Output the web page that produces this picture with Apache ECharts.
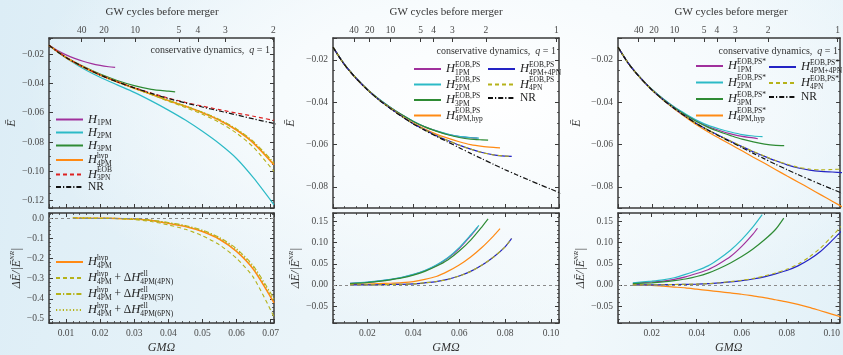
<!DOCTYPE html>
<html>
<head>
<meta charset="utf-8">
<script src="https://cdn.jsdelivr.net/npm/echarts@6/dist/echarts.min.js"></script>
<style>
  html, body { margin: 0; padding: 0; }
  body {
    width: 843px; height: 355px; overflow: hidden;
    background:
      radial-gradient(ellipse 55% 65% at 58% 28%, #ffffff 0%, #f7fbfd 45%, rgba(247,251,253,0) 100%),
      linear-gradient(100deg, #dcedf6 0%, #eaf4f9 40%, #f1f8fb 70%, #e3f1f8 100%);
  }
  #chart { width: 843px; height: 355px; }
</style>
</head>
<body>
<div id="chart"></div>
<script>
// ---- data (GM Omega, value) ----
const nrOmega = [0.005, 0.0075, 0.01, 0.0125, 0.015, 0.02, 0.025, 0.03, 0.035, 0.04, 0.045, 0.05,
  0.055, 0.06, 0.065, 0.07, 0.075, 0.08, 0.085, 0.09, 0.095, 0.10, 0.105];
const nrEnergy = [-0.0140, -0.0184, -0.0223, -0.0256, -0.0287, -0.0342, -0.0389, -0.0430, -0.0468, -0.0503,
  -0.0533, -0.0561, -0.0588, -0.0615, -0.0642, -0.0668, -0.0694, -0.0719, -0.0743, -0.0766, -0.0789, -0.0811, -0.0833];

// panel 1, top: binding energy
const p1H1PM = [[0.005,-0.0140],[0.0075,-0.0176],[0.01,-0.0205],[0.0125,-0.0229],[0.015,-0.0249],[0.0175,-0.0265],[0.02,-0.0277],[0.0225,-0.0286],[0.0244,-0.0291]];
const p1H2PM = [[0.005,-0.0140],[0.0075,-0.0185],[0.01,-0.0226],[0.015,-0.0298],[0.02,-0.0358],[0.025,-0.0410],[0.03,-0.0461],[0.035,-0.0519],[0.04,-0.0582],[0.045,-0.0650],[0.05,-0.0727],[0.055,-0.0812],[0.06,-0.0912],[0.065,-0.1045],[0.071,-0.1228]];
const p1H3PM = [[0.005,-0.0140],[0.01,-0.0222],[0.015,-0.0284],[0.02,-0.0337],[0.025,-0.0380],[0.03,-0.0415],[0.035,-0.0440],[0.04,-0.0453],[0.042,-0.0457]];
const p1H4PMhyp = [[0.005,-0.0140],[0.01,-0.0223],[0.015,-0.0287],[0.02,-0.0342],[0.025,-0.0389],[0.03,-0.0432],[0.035,-0.0474],[0.04,-0.0516],[0.045,-0.0556],[0.05,-0.0600],[0.055,-0.0651],[0.06,-0.0718],[0.065,-0.0807],[0.071,-0.0955]];
const p1H3PNeob = [[0.005,-0.0140],[0.01,-0.0223],[0.015,-0.0287],[0.02,-0.0342],[0.025,-0.0389],[0.03,-0.0429],[0.035,-0.0466],[0.04,-0.0500],[0.045,-0.0529],[0.05,-0.0555],[0.055,-0.0579],[0.06,-0.0602],[0.065,-0.0624],[0.071,-0.0652]];
const p1Ell4PN = [[0.005,-0.0140],[0.01,-0.0223],[0.015,-0.0287],[0.02,-0.0342],[0.025,-0.0390],[0.03,-0.0433],[0.035,-0.0476],[0.04,-0.0521],[0.045,-0.0564],[0.05,-0.0611],[0.055,-0.0666],[0.06,-0.0739],[0.065,-0.0836],[0.071,-0.1001]];
const p1Ell5PN = [[0.005,-0.0140],[0.01,-0.0223],[0.015,-0.0287],[0.02,-0.0342],[0.025,-0.0389],[0.03,-0.0432],[0.035,-0.0473],[0.04,-0.0514],[0.045,-0.0554],[0.05,-0.0596],[0.055,-0.0646],[0.06,-0.0710],[0.065,-0.0797],[0.071,-0.0941]];
const p1Ell6PN = [[0.005,-0.0140],[0.01,-0.0223],[0.015,-0.0287],[0.02,-0.0342],[0.025,-0.0389],[0.03,-0.0432],[0.035,-0.0474],[0.04,-0.0515],[0.045,-0.0555],[0.05,-0.0597],[0.055,-0.0647],[0.06,-0.0713],[0.065,-0.0801],[0.071,-0.0948]];

// panel 1, bottom: relative difference to NR
const p1dHyp = [[0.012,0],[0.02,-0.001],[0.025,-0.002],[0.03,-0.005],[0.035,-0.012],[0.04,-0.026],[0.045,-0.042],[0.05,-0.067],[0.055,-0.105],[0.06,-0.165],[0.065,-0.255],[0.071,-0.42]];
const p1d4PN = [[0.012,0],[0.02,-0.001],[0.025,-0.003],[0.03,-0.008],[0.035,-0.017],[0.04,-0.034],[0.045,-0.056],[0.05,-0.088],[0.055,-0.133],[0.06,-0.199],[0.065,-0.295],[0.071,-0.49]];
const p1d5PN = [[0.012,0],[0.02,-0.001],[0.025,-0.002],[0.03,-0.004],[0.035,-0.010],[0.04,-0.022],[0.045,-0.037],[0.05,-0.060],[0.055,-0.096],[0.06,-0.152],[0.065,-0.238],[0.071,-0.400]];
const p1d6PN = [[0.012,0],[0.02,-0.001],[0.025,-0.002],[0.03,-0.0045],[0.035,-0.011],[0.04,-0.024],[0.045,-0.039],[0.05,-0.063],[0.055,-0.100],[0.06,-0.157],[0.065,-0.245],[0.071,-0.410]];

// panel 2 (EOB,PS), top
const p2H1PM = [[0.005,-0.0140],[0.01,-0.0222],[0.015,-0.0286],[0.02,-0.0340],[0.025,-0.0386],[0.03,-0.0425],[0.035,-0.0460],[0.04,-0.0491],[0.045,-0.0516],[0.05,-0.0536],[0.055,-0.0552],[0.06,-0.0563],[0.065,-0.0568],[0.068,-0.0570]];
const p2H2PM = [[0.005,-0.0140],[0.01,-0.0222],[0.015,-0.0286],[0.02,-0.0340],[0.025,-0.0385],[0.03,-0.0424],[0.035,-0.0460],[0.04,-0.0490],[0.045,-0.0516],[0.05,-0.0536],[0.055,-0.0551],[0.06,-0.0562],[0.065,-0.0567],[0.0686,-0.0570]];
const p2H3PM = [[0.005,-0.0140],[0.01,-0.0222],[0.015,-0.0286],[0.02,-0.0340],[0.025,-0.0386],[0.03,-0.0425],[0.035,-0.0460],[0.04,-0.0491],[0.045,-0.0517],[0.05,-0.0537],[0.055,-0.0554],[0.06,-0.0567],[0.065,-0.0575],[0.07,-0.0578],[0.0726,-0.0579]];
const p2H4PMhyp = [[0.005,-0.0140],[0.01,-0.0223],[0.015,-0.0287],[0.02,-0.0341],[0.025,-0.0388],[0.03,-0.0428],[0.035,-0.0465],[0.04,-0.0499],[0.045,-0.0527],[0.05,-0.0551],[0.055,-0.0570],[0.06,-0.0587],[0.065,-0.0601],[0.07,-0.0609],[0.075,-0.0614],[0.0778,-0.0616]];
const p2H4PM4PN = [[0.005,-0.0140],[0.01,-0.0223],[0.015,-0.0287],[0.02,-0.0342],[0.025,-0.0389],[0.03,-0.0430],[0.035,-0.0467],[0.04,-0.0502],[0.045,-0.0531],[0.05,-0.0558],[0.055,-0.0581],[0.06,-0.0603],[0.065,-0.0622],[0.07,-0.0638],[0.075,-0.0649],[0.08,-0.0655],[0.0829,-0.0656]];
const p2H4PN = [[0.005,-0.0140],[0.01,-0.0223],[0.015,-0.0287],[0.02,-0.0342],[0.025,-0.0389],[0.03,-0.0430],[0.035,-0.0467],[0.04,-0.0502],[0.045,-0.0531],[0.05,-0.0558],[0.055,-0.0581],[0.06,-0.0603],[0.065,-0.0622],[0.07,-0.0638],[0.075,-0.0649],[0.08,-0.0655],[0.0829,-0.0656]];

// panel 2, bottom
const p2dH1PM = [[0.0124,0.0035],[0.02,0.006],[0.025,0.009],[0.03,0.0125],[0.035,0.0175],[0.04,0.0245],[0.045,0.0335],[0.05,0.046],[0.055,0.063],[0.06,0.086],[0.065,0.116],[0.068,0.136]];
const p2dH2PM = [[0.0124,0.004],[0.02,0.0065],[0.025,0.0095],[0.03,0.013],[0.035,0.018],[0.04,0.025],[0.045,0.034],[0.05,0.047],[0.055,0.064],[0.06,0.088],[0.065,0.118],[0.0686,0.141]];
const p2dH3PM = [[0.0124,0.003],[0.02,0.0055],[0.025,0.0085],[0.03,0.012],[0.035,0.0165],[0.04,0.023],[0.045,0.032],[0.05,0.044],[0.055,0.059],[0.06,0.080],[0.065,0.106],[0.07,0.138],[0.0726,0.156]];
const p2dH4PMhyp = [[0.0124,0.001],[0.02,0.002],[0.025,0.003],[0.03,0.004],[0.035,0.0055],[0.04,0.008],[0.045,0.013],[0.05,0.020],[0.055,0.032],[0.06,0.047],[0.065,0.066],[0.07,0.089],[0.075,0.116],[0.0778,0.133]];
const p2dH4PM4PN = [[0.0124,0],[0.02,0],[0.025,0.0005],[0.03,0.001],[0.035,0.0015],[0.04,0.0025],[0.045,0.005],[0.05,0.008],[0.055,0.013],[0.06,0.021],[0.065,0.032],[0.07,0.047],[0.075,0.066],[0.08,0.090],[0.0829,0.110]];
const p2dH4PN = [[0.0124,0],[0.02,0],[0.025,0.0005],[0.03,0.001],[0.035,0.0015],[0.04,0.0025],[0.045,0.005],[0.05,0.008],[0.055,0.013],[0.06,0.021],[0.065,0.032],[0.07,0.047],[0.075,0.066],[0.08,0.090],[0.0829,0.110]];

// panel 3 (EOB,PS*), top
const p3H1PM = [[0.005,-0.0140],[0.01,-0.0222],[0.015,-0.0286],[0.02,-0.0340],[0.025,-0.0385],[0.03,-0.0424],[0.035,-0.0459],[0.04,-0.0489],[0.045,-0.0515],[0.05,-0.0534],[0.055,-0.0550],[0.06,-0.0562],[0.065,-0.0569],[0.067,-0.0573]];
const p3H2PM = [[0.005,-0.0140],[0.01,-0.0222],[0.015,-0.0285],[0.02,-0.0339],[0.025,-0.0384],[0.03,-0.0423],[0.035,-0.0456],[0.04,-0.0486],[0.045,-0.0510],[0.05,-0.0527],[0.055,-0.0541],[0.06,-0.0553],[0.065,-0.0560],[0.0691,-0.0563]];
const p3H3PM = [[0.005,-0.0140],[0.01,-0.0223],[0.015,-0.0286],[0.02,-0.0340],[0.025,-0.0386],[0.03,-0.0426],[0.035,-0.0461],[0.04,-0.0493],[0.045,-0.0519],[0.05,-0.0540],[0.055,-0.0558],[0.06,-0.0575],[0.065,-0.0588],[0.07,-0.0598],[0.075,-0.0604],[0.0787,-0.0605]];
const p3H4PMhyp = [[0.005,-0.0140],[0.01,-0.0223],[0.015,-0.0287],[0.02,-0.0342],[0.025,-0.0390],[0.03,-0.0432],[0.035,-0.0471],[0.04,-0.0508],[0.045,-0.0541],[0.05,-0.0571],[0.055,-0.0600],[0.06,-0.0630],[0.065,-0.0660],[0.07,-0.0689],[0.075,-0.0719],[0.08,-0.0749],[0.085,-0.0778],[0.09,-0.0808],[0.095,-0.0838],[0.10,-0.0868],[0.105,-0.0898]];
const p3H4PM4PN = [[0.005,-0.0140],[0.01,-0.0223],[0.015,-0.0287],[0.02,-0.0342],[0.025,-0.0389],[0.03,-0.0430],[0.035,-0.0467],[0.04,-0.0502],[0.045,-0.0532],[0.05,-0.0559],[0.055,-0.0585],[0.06,-0.0610],[0.065,-0.0634],[0.07,-0.0656],[0.075,-0.0677],[0.08,-0.0696],[0.085,-0.0711],[0.09,-0.0721],[0.095,-0.0727],[0.10,-0.0730],[0.105,-0.0733]];
const p3H4PN = [[0.005,-0.0140],[0.01,-0.0223],[0.015,-0.0287],[0.02,-0.0342],[0.025,-0.0389],[0.03,-0.0430],[0.035,-0.0467],[0.04,-0.0502],[0.045,-0.0532],[0.05,-0.0559],[0.055,-0.0584],[0.06,-0.0609],[0.065,-0.0633],[0.07,-0.0655],[0.075,-0.0676],[0.08,-0.0693],[0.085,-0.0708],[0.09,-0.0716],[0.095,-0.0720],[0.10,-0.0718],[0.105,-0.0716]];

// panel 3, bottom
const p3dH1PM = [[0.0116,0.004],[0.02,0.007],[0.025,0.009],[0.03,0.013],[0.035,0.019],[0.04,0.027],[0.045,0.036],[0.05,0.050],[0.055,0.067],[0.06,0.091],[0.065,0.120],[0.067,0.134]];
const p3dH2PM = [[0.0116,0.005],[0.02,0.009],[0.025,0.012],[0.03,0.017],[0.035,0.025],[0.04,0.034],[0.045,0.045],[0.05,0.062],[0.055,0.082],[0.06,0.107],[0.065,0.137],[0.0691,0.166]];
const p3dH3PM = [[0.0116,0.003],[0.02,0.005],[0.025,0.007],[0.03,0.010],[0.035,0.014],[0.04,0.020],[0.045,0.028],[0.05,0.039],[0.055,0.052],[0.06,0.067],[0.065,0.085],[0.07,0.106],[0.075,0.131],[0.0787,0.158]];
const p3dH4PMhyp = [[0.0116,0],[0.02,-0.001],[0.025,-0.003],[0.03,-0.005],[0.035,-0.007],[0.04,-0.010],[0.045,-0.013],[0.05,-0.016],[0.055,-0.019],[0.06,-0.022],[0.065,-0.026],[0.07,-0.030],[0.075,-0.035],[0.08,-0.040],[0.085,-0.046],[0.09,-0.053],[0.095,-0.061],[0.10,-0.069],[0.105,-0.077]];
const p3dH4PM4PN = [[0.0116,0],[0.02,0],[0.03,0.001],[0.04,0.002],[0.045,0.003],[0.05,0.005],[0.055,0.007],[0.06,0.010],[0.065,0.014],[0.07,0.019],[0.075,0.026],[0.08,0.034],[0.085,0.045],[0.09,0.060],[0.095,0.079],[0.10,0.104],[0.105,0.131]];
const p3dH4PN = [[0.0116,0],[0.02,0],[0.03,0.001],[0.04,0.002],[0.045,0.003],[0.05,0.005],[0.055,0.008],[0.06,0.011],[0.065,0.015],[0.07,0.021],[0.075,0.028],[0.08,0.037],[0.085,0.049],[0.09,0.066],[0.095,0.087],[0.10,0.114],[0.105,0.143]];

// top axis: GW cycles before merger
const cycleLabels1 = ['40', '20', '10', '5', '4', '3', '2'];
const cycleOmega1 = [0.0146, 0.0211, 0.0303, 0.0431, 0.0487, 0.0567, 0.0708];
const cycleLabels23 = ['40', '20', '10', '5', '4', '3', '2', '1'];
const cycleOmega23 = [0.0142, 0.0210, 0.0301, 0.0432, 0.0489, 0.0570, 0.0716, 0.1024];

// ---- styling ----
const SERIF = "'Liberation Serif', 'DejaVu Serif', serif";
const FRAME = '#3a3a3a';
const C = {
  purple: '#a0309c', cyan: '#2cbac6', green: '#2e8b34', orange: '#ff8a14',
  red: '#dd2222', black: '#111111', blue: '#2323c4', olive: '#b5b21a'
};
const DASH = [4, 3];
const DASHDOT = [5, 2, 1.2, 2];
const DOT = [1.2, 2.2];

const nrData = nrOmega.map((w, i) => [w, nrEnergy[i]]);

const grids = [
  { left: 49, top: 38, width: 225, height: 170 },
  { left: 49, top: 213, width: 225, height: 113 },
  { left: 333, top: 38, width: 226, height: 170 },
  { left: 333, top: 213, width: 226, height: 113 },
  { left: 618, top: 38, width: 226, height: 170 },
  { left: 618, top: 213, width: 226, height: 113 }
];
const xRanges = [[0.005, 0.071], [0.005, 0.1035], [0.005, 0.1035]];
const yTopRanges = [[-0.125, -0.009], [-0.090, -0.0097], [-0.090, -0.0097]];
const yBotRanges = [[-0.52, 0.025], [-0.09, 0.17], [-0.09, 0.17]];
const yTopNameGap = [25, 36, 35];
const yBotNameGap = [23, 21, 29];
const yBotDigits = [1, 2, 2];

function fmt(d) {
  return v => {
    if (Math.abs(v) < 1e-12) v = 0;
    const s = Math.abs(v).toFixed(d);
    return v < 0 ? '\u2212' + s : s;
  };
}

function labelStyle(d) {
  return {
    show: true, color: '#4a4a4a', fontFamily: SERIF, fontSize: 9.5, margin: 5,
    showMinLabel: false, showMaxLabel: false, formatter: fmt(d)
  };
}

function frameAxis(extra) {
  return Object.assign({
    type: 'value',
    axisLine: { show: true, onZero: false, lineStyle: { color: FRAME, width: 1.5 } },
    axisTick: { show: true, inside: true, length: 4, lineStyle: { color: FRAME, width: 1 } },
    minorTick: { show: true, splitNumber: 5, length: 2, lineStyle: { color: FRAME, width: 0.8 } },
    splitLine: { show: false },
    axisLabel: { show: false }
  }, extra);
}

const xAxes = [];
const yAxes = [];
for (let col = 0; col < 3; col++) {
  const [xmin, xmax] = xRanges[col];
  const xMinor = col === 0 ? 5 : 4;
  for (let row = 0; row < 2; row++) {
    const g = col * 2 + row;
    const [ymin, ymax] = row === 0 ? yTopRanges[col] : yBotRanges[col];
    const yMinor = row === 0 ? 4 : 5;
    // bottom x
    xAxes.push(frameAxis({
      gridIndex: g, position: 'bottom', min: xmin, max: xmax,
      minorTick: { show: true, splitNumber: xMinor, length: 2, lineStyle: { color: FRAME, width: 0.8 } },
      axisLabel: row === 1 ? labelStyle(2) : { show: false },
      name: row === 1 ? 'GM\u03A9' : '',
      nameLocation: 'middle', nameGap: 19,
      nameTextStyle: { fontFamily: SERIF, fontStyle: 'italic', fontSize: 12, color: '#333' }
    }));
    // top x
    if (row === 0) {
      const cw = col === 0 ? cycleOmega1 : cycleOmega23;
      const cl = col === 0 ? cycleLabels1 : cycleLabels23;
      xAxes.push(frameAxis({
        gridIndex: g, position: 'top', min: xmin, max: xmax,
        axisTick: { show: true, inside: true, length: 4, customValues: cw, lineStyle: { color: FRAME, width: 1 } },
        minorTick: { show: false },
        axisLabel: {
          show: true, customValues: cw, color: '#4a4a4a', fontFamily: SERIF, fontSize: 9.5, margin: 3,
          formatter: v => { const i = cw.indexOf(v); return i >= 0 ? cl[i] : ''; }
        }
      }));
    } else {
      xAxes.push(frameAxis({
        gridIndex: g, position: 'top', min: xmin, max: xmax,
        minorTick: { show: true, splitNumber: xMinor, length: 2, lineStyle: { color: FRAME, width: 0.8 } }
      }));
    }
    // left y
    yAxes.push(frameAxis({
      gridIndex: g, position: 'left', min: ymin, max: ymax,
      minorTick: { show: true, splitNumber: yMinor, length: 2, lineStyle: { color: FRAME, width: 0.8 } },
      axisLabel: labelStyle(row === 0 ? 2 : yBotDigits[col]),
      name: row === 0 ? '\u0112' : '{r|\u0394}{i|\u0112}{r|/|}{i|\u0112}{s|NR}{r||}',
      nameLocation: 'middle', nameRotate: 90,
      nameGap: row === 0 ? yTopNameGap[col] : yBotNameGap[col],
      nameTextStyle: {
        fontFamily: SERIF, fontStyle: 'italic', fontSize: 12, color: '#333',
        rich: {
          r: { fontFamily: SERIF, fontSize: 12, color: '#333', lineHeight: 16 },
          i: { fontFamily: SERIF, fontStyle: 'italic', fontSize: 12, color: '#333', lineHeight: 16 },
          s: { fontFamily: SERIF, fontSize: 7, color: '#333', lineHeight: 8, verticalAlign: 'top' }
        }
      }
    }));
    // right y (mirror ticks)
    yAxes.push(frameAxis({
      gridIndex: g, position: 'right', min: ymin, max: ymax,
      minorTick: { show: true, splitNumber: yMinor, length: 2, lineStyle: { color: FRAME, width: 0.8 } }
    }));
  }
}

function ln(name, data, g, color, width, type, extra) {
  return Object.assign({
    type: 'line', name, data, xAxisIndex: 2 * g, yAxisIndex: 2 * g,
    symbol: 'none', showSymbol: false, smooth: 0.25,
    clip: true, silent: true, animation: false,
    lineStyle: { color, width, type: type || 'solid' },
    itemStyle: { color }
  }, extra || {});
}

const zeroLine = {
  silent: true, symbol: ['none', 'none'], label: { show: false },
  lineStyle: { color: '#8a8a8a', type: [3, 3], width: 1 },
  data: [{ yAxis: 0 }]
};

const series = [
  // panel 1 top
  ln('p1_2PM', p1H2PM, 0, C.cyan, 1.2),
  ln('p1_1PM', p1H1PM, 0, C.purple, 1.2),
  ln('p1_3PM', p1H3PM, 0, C.green, 1.3),
  ln('p1_4PMhyp', p1H4PMhyp, 0, C.orange, 1.7),
  ln('p1_t4PN', p1Ell4PN, 0, C.olive, 1.1, DASH),
  ln('p1_t5PN', p1Ell5PN, 0, C.olive, 1.1, DASHDOT),
  ln('p1_t6PN', p1Ell6PN, 0, C.olive, 1.1, DOT),
  ln('p1_3PNeob', p1H3PNeob, 0, C.red, 1.2, DASH),
  ln('p1_NR', nrData, 0, C.black, 1.2, DASHDOT),
  // panel 1 bottom
  ln('p1b_hyp', p1dHyp, 1, C.orange, 1.5, 'solid', { markLine: zeroLine }),
  ln('p1b_4PN', p1d4PN, 1, C.olive, 1.1, DASH),
  ln('p1b_5PN', p1d5PN, 1, C.olive, 1.1, DASHDOT),
  ln('p1b_6PN', p1d6PN, 1, C.olive, 1.1, DOT),
  // panel 2 top
  ln('p2_1PM', p2H1PM, 2, C.purple, 1.2),
  ln('p2_2PM', p2H2PM, 2, C.cyan, 1.2),
  ln('p2_3PM', p2H3PM, 2, C.green, 1.2),
  ln('p2_4PMhyp', p2H4PMhyp, 2, C.orange, 1.2),
  ln('p2_4PM4PN', p2H4PM4PN, 2, C.blue, 1.2),
  ln('p2_4PN', p2H4PN, 2, C.olive, 1.1, DASH),
  ln('p2_NR', nrData, 2, C.black, 1.2, DASHDOT),
  // panel 2 bottom
  ln('p2b_1PM', p2dH1PM, 3, C.purple, 1.2, 'solid', { markLine: zeroLine }),
  ln('p2b_2PM', p2dH2PM, 3, C.cyan, 1.2),
  ln('p2b_3PM', p2dH3PM, 3, C.green, 1.2),
  ln('p2b_4PMhyp', p2dH4PMhyp, 3, C.orange, 1.2),
  ln('p2b_4PM4PN', p2dH4PM4PN, 3, C.blue, 1.2),
  ln('p2b_4PN', p2dH4PN, 3, C.olive, 1.1, DASH),
  // panel 3 top
  ln('p3_1PM', p3H1PM, 4, C.purple, 1.2),
  ln('p3_2PM', p3H2PM, 4, C.cyan, 1.2),
  ln('p3_3PM', p3H3PM, 4, C.green, 1.2),
  ln('p3_4PMhyp', p3H4PMhyp, 4, C.orange, 1.2),
  ln('p3_4PM4PN', p3H4PM4PN, 4, C.blue, 1.2),
  ln('p3_4PN', p3H4PN, 4, C.olive, 1.1, DASH),
  ln('p3_NR', nrData, 4, C.black, 1.2, DASHDOT),
  // panel 3 bottom
  ln('p3b_1PM', p3dH1PM, 5, C.purple, 1.2, 'solid', { markLine: zeroLine }),
  ln('p3b_2PM', p3dH2PM, 5, C.cyan, 1.2),
  ln('p3b_3PM', p3dH3PM, 5, C.green, 1.2),
  ln('p3b_4PMhyp', p3dH4PMhyp, 5, C.orange, 1.2),
  ln('p3b_4PM4PN', p3dH4PM4PN, 5, C.blue, 1.2),
  ln('p3b_4PN', p3dH4PN, 5, C.olive, 1.1, DASH)
];

// legend texts (rich: h = italic H, sp = superscript stacked over sb = subscript)
const LEG = {
  p1_1PM: '{h|H}{sb|1PM}',
  p1_2PM: '{h|H}{sb|2PM}',
  p1_3PM: '{h|H}{sb|3PM}',
  p1_4PMhyp: '{h|H}{sp|hyp}{sb|4PM}',
  p1_3PNeob: '{h|H}{sp|EOB}{sb|3PN}',
  p1_NR: '{t|NR}',
  p1b_hyp: '{h|H}{sp|hyp}{sb|4PM}',
  p1b_4PN: '{h|H}{sp|hyp}{sb|4PM}{t| + \u0394}{h|H}{sp|ell}{sb|4PM(4PN)}',
  p1b_5PN: '{h|H}{sp|hyp}{sb|4PM}{t| + \u0394}{h|H}{sp|ell}{sb|4PM(5PN)}',
  p1b_6PN: '{h|H}{sp|hyp}{sb|4PM}{t| + \u0394}{h|H}{sp|ell}{sb|4PM(6PN)}',
  p2_1PM: '{h|H}{sp|EOB,PS}{sb|1PM}',
  p2_2PM: '{h|H}{sp|EOB,PS}{sb|2PM}',
  p2_3PM: '{h|H}{sp|EOB,PS}{sb|3PM}',
  p2_4PMhyp: '{h|H}{sp|EOB,PS}{sb|4PM,hyp}',
  p2_4PM4PN: '{h|H}{sp|EOB,PS}{sb|4PM+4PN}',
  p2_4PN: '{h|H}{sp|EOB,PS}{sb|4PN}',
  p2_NR: '{t|NR}',
  p3_1PM: '{h|H}{sp|EOB,PS*}{sb|1PM}',
  p3_2PM: '{h|H}{sp|EOB,PS*}{sb|2PM}',
  p3_3PM: '{h|H}{sp|EOB,PS*}{sb|3PM}',
  p3_4PMhyp: '{h|H}{sp|EOB,PS*}{sb|4PM,hyp}',
  p3_4PM4PN: '{h|H}{sp|EOB,PS*}{sb|4PM+4PN}',
  p3_4PN: '{h|H}{sp|EOB,PS*}{sb|4PN}',
  p3_NR: '{t|NR}'
};
const rich = {
  h: { fontFamily: SERIF, fontStyle: 'italic', fontSize: 12.5, lineHeight: 16, color: '#222' },
  t: { fontFamily: SERIF, fontSize: 11.5, lineHeight: 16, color: '#222' },
  sp: { fontFamily: SERIF, fontSize: 7.5, lineHeight: 7, verticalAlign: 'top', width: 0, color: '#222' },
  sb: { fontFamily: SERIF, fontSize: 7.5, lineHeight: 7, verticalAlign: 'bottom', color: '#222' }
};

function legend(names, left, top, gap) {
  return {
    data: names, left, top, orient: 'vertical', itemGap: gap,
    itemWidth: 27, itemHeight: 10, selectedMode: false, padding: 0,
    itemStyle: { opacity: 0 },
    formatter: n => LEG[n],
    textStyle: { fontFamily: SERIF, fontSize: 11, color: '#222', rich }
  };
}

const cons = '{n|conservative dynamics,  }{q|q}{n| = 1}';
const consRich = {
  n: { fontFamily: SERIF, fontSize: 10, fill: '#333', color: '#333' },
  q: { fontFamily: SERIF, fontStyle: 'italic', fontSize: 10, fill: '#333', color: '#333' }
};
function txt(text, x, y, align, extra) {
  return {
    type: 'text', x, y, silent: true,
    style: Object.assign({
      text, fill: '#333', fontFamily: SERIF, fontSize: 11,
      align, textAlign: align, verticalAlign: 'middle', textVerticalAlign: 'middle'
    }, extra || {})
  };
}

const option = {
  animation: false,
  backgroundColor: 'transparent',
  grid: grids,
  xAxis: xAxes,
  yAxis: yAxes,
  legend: [
    legend(['p1_1PM', 'p1_2PM', 'p1_3PM', 'p1_4PMhyp', 'p1_3PNeob', 'p1_NR'], 55, 113, -1.5),
    legend(['p1b_hyp', 'p1b_4PN', 'p1b_5PN', 'p1b_6PN'], 55, 254, 0),
    legend(['p2_1PM', 'p2_2PM', 'p2_3PM', 'p2_4PMhyp'], 413, 61, -0.5),
    legend(['p2_4PM4PN', 'p2_4PN', 'p2_NR'], 487, 61, -0.5),
    legend(['p3_1PM', 'p3_2PM', 'p3_3PM', 'p3_4PMhyp'], 695, 58, 0.5),
    legend(['p3_4PM4PN', 'p3_4PN', 'p3_NR'], 768, 59, 0)
  ],
  graphic: [
    txt('GW cycles before merger', 162, 12, 'center'),
    txt('GW cycles before merger', 446, 12, 'center'),
    txt('GW cycles before merger', 731, 12, 'center'),
    txt(cons, 270, 50, 'right', { rich: consRich, fontSize: 10 }),
    txt(cons, 556, 51, 'right', { rich: consRich, fontSize: 10 }),
    txt(cons, 838, 51, 'right', { rich: consRich, fontSize: 10 })
  ],
  series
};

const chart = echarts.init(document.getElementById('chart'), null, { renderer: 'canvas' });
chart.setOption(option);
</script>
</body>
</html>
